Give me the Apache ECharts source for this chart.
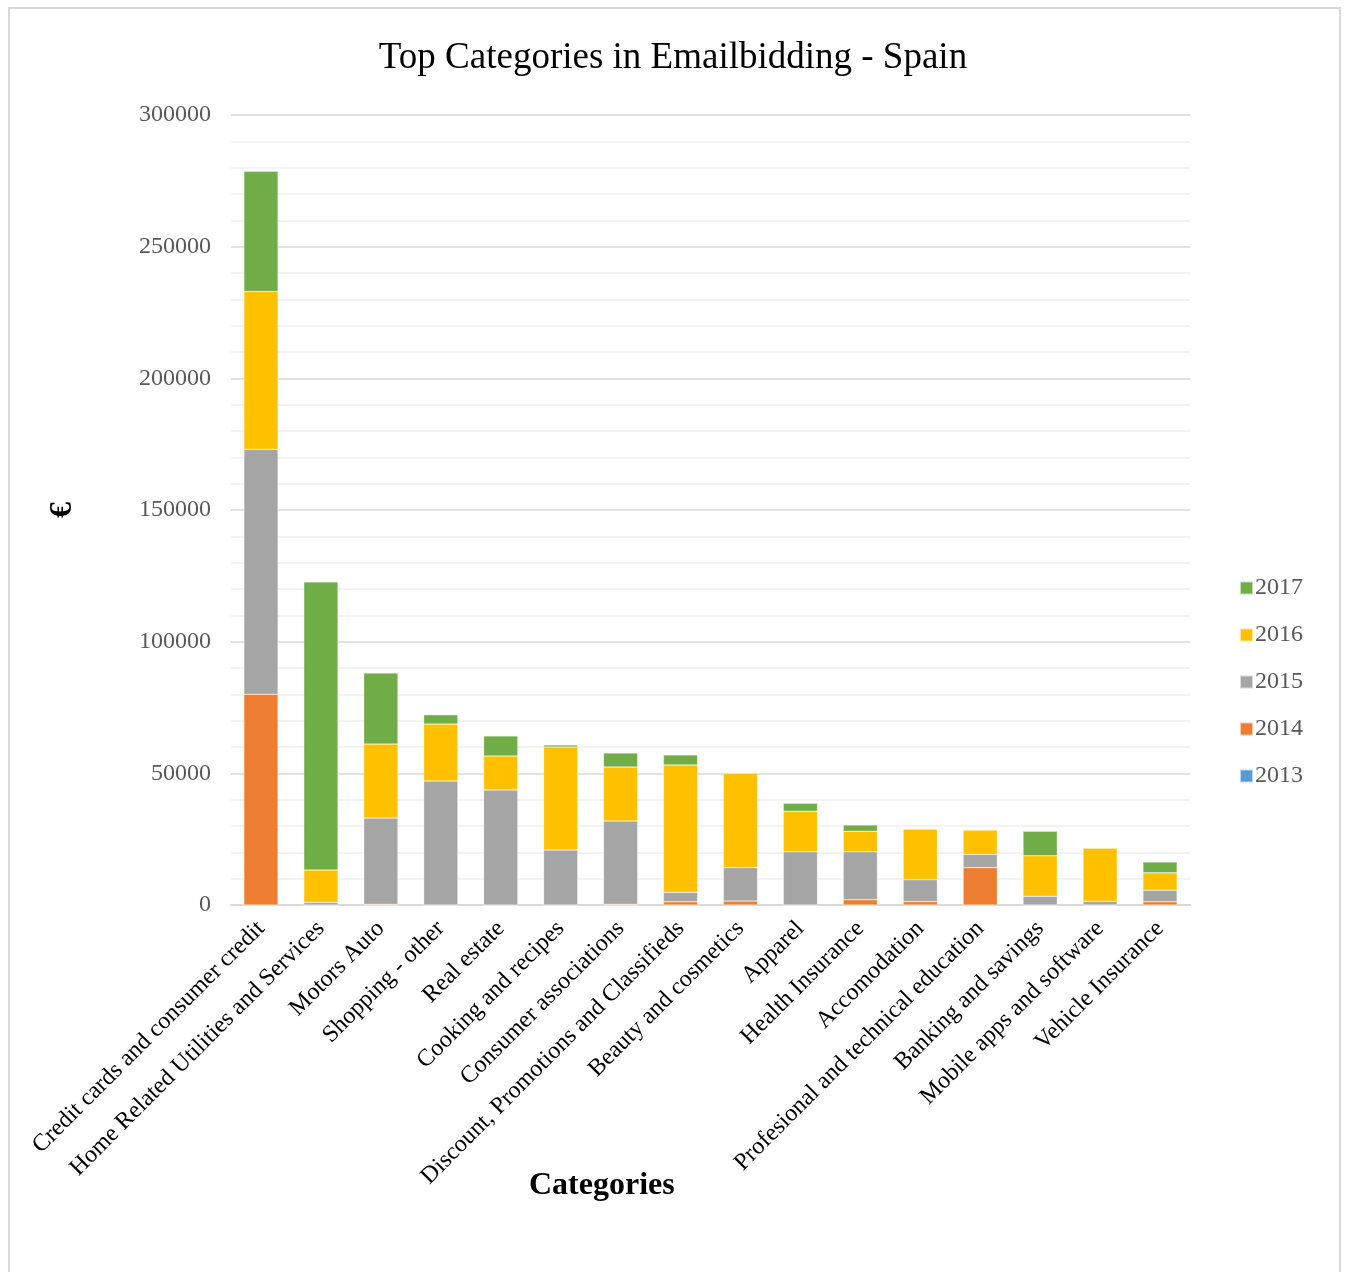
<!DOCTYPE html>
<html><head><meta charset="utf-8">
<script src="https://cdn.jsdelivr.net/npm/echarts@6/dist/echarts.min.js"></script>
<style>html,body{margin:0;padding:0;background:#fff}#c{width:1346px;height:1272px}</style>
</head><body><div id="c"></div>
<script>
const categories = ["Credit cards and consumer credit","Home Related Utilities and Services","Motors Auto","Shopping - other","Real estate","Cooking and recipes","Consumer associations","Discount, Promotions and Classifieds","Beauty and cosmetics","Apparel","Health Insurance","Accomodation","Profesional and technical education","Banking and savings","Mobile apps and software","Vehicle Insurance"];
const v2013 = [0,0,0,0,0,0,0,0,0,0,0,0,0,0,0,0];
const v2014 = [80000,0,300,0,0,0,300,1200,1500,0,2000,1300,14200,0,0,1200];
const v2015 = [93000,1000,32700,47100,43700,20900,31600,3600,12700,20200,18200,8300,5000,3300,1400,4400];
const v2016 = [60000,12300,28100,21600,12900,39100,20500,48400,35900,15400,7800,19300,9300,15400,20200,6600];
const v2017 = [45600,109400,27000,3500,7600,800,5300,3800,0,3000,2400,0,0,9300,0,4100];
const yTicks = {min:0, max:300000, interval:50000};

const chart = echarts.init(document.getElementById('c'));
const serif = '"Liberation Serif","Times New Roman",serif';
function s(name, data, color){
  return {name, type:'bar', stack:'t', data, barWidth:'57%',
    itemStyle:{color, borderColor:'rgba(255,255,255,0.6)', borderWidth:0.5}};
}
chart.setOption({
  animation:false,
  title:{text:'Top Categories in Emailbidding - Spain', left:'center', top:35,
    textStyle:{fontFamily:serif, fontSize:37, fontWeight:'normal', color:'#000'}},
  graphic:[
    {type:'rect', shape:{x:9,y:8,width:1331,height:1280}, style:{fill:'none', stroke:'#d9d9d9', lineWidth:2}},
    {type:'text', left:529, top:1170, style:{text:'Categories', font:'bold 32px "Liberation Serif", serif', fill:'#000'}}
  ],
  legend:{orient:'vertical', right:38, top:571, itemGap:23, itemWidth:13, itemHeight:13,
    icon:'rect', data:['2017','2016','2015','2014','2013'],
    textStyle:{fontFamily:serif, fontSize:24, color:'#595959', padding:[0,0,0,-3]}},
  grid:{left:231, right:156, top:115, bottom:367},
  xAxis:{type:'category', data:categories,
    axisLine:{lineStyle:{color:'#d9d9d9', width:2}}, axisTick:{show:false},
    axisLabel:{rotate:45, interval:0, fontFamily:serif, fontSize:24, color:'#000', margin:20}},
  yAxis:{type:'value', min:yTicks.min, max:yTicks.max, interval:yTicks.interval,
    name:'€', nameLocation:'middle', nameGap:152, nameRotate:90,
    nameTextStyle:{fontFamily:serif, fontSize:32, fontWeight:'bold', color:'#000'},
    axisLine:{show:false}, axisTick:{show:false},
    axisLabel:{fontFamily:serif, fontSize:24, color:'#595959', margin:20, formatter:v=>String(v)},
    splitLine:{lineStyle:{color:'#d9d9d9', width:1.5}},
    minorTick:{show:false, splitNumber:5},
    minorSplitLine:{show:true, lineStyle:{color:'#f0f0f0', width:1.5}}},
  series:[s('2013',v2013,'#5B9BD5'), s('2014',v2014,'#ED7D31'), s('2015',v2015,'#A5A5A5'), s('2016',v2016,'#FFC000'), s('2017',v2017,'#70AD47')]
});
</script></body></html>
